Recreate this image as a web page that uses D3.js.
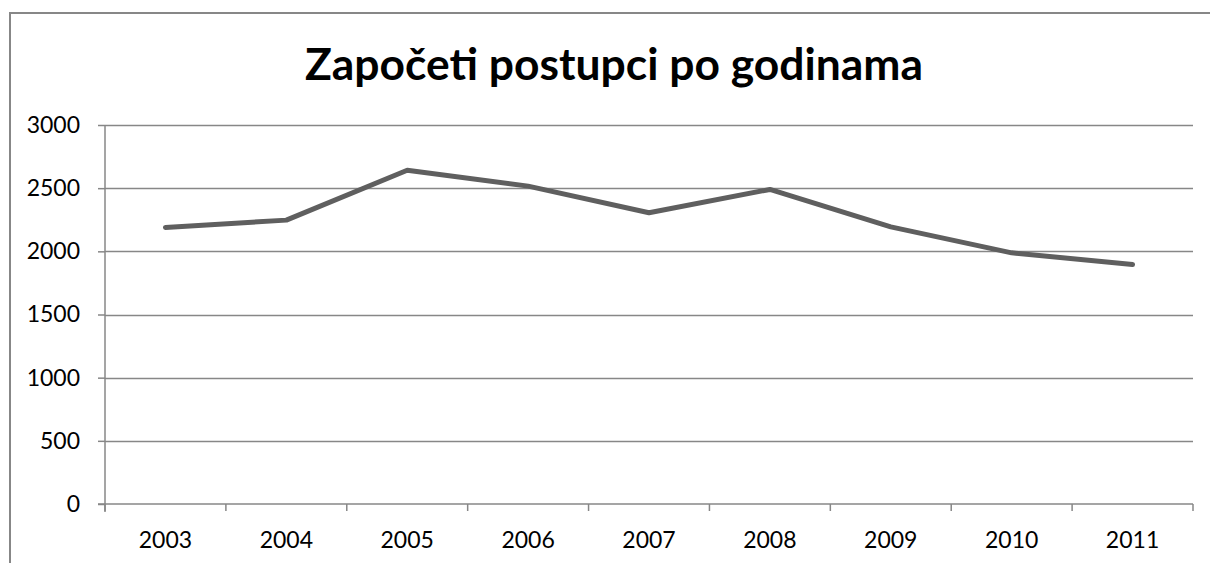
<!DOCTYPE html>
<html>
<head>
<meta charset="utf-8">
<script src="https://cdn.jsdelivr.net/npm/d3@7"></script>
<style>
  body { margin: 0; background: #fff; }
  svg { display: block; }
  text { font-family: Lato, "Open Sans", sans-serif; fill: #000; }
</style>
</head>
<body>
<div id="viz"></div>
<script>
'use strict';

var title = 'Započeti postupci po godinama';
var years = ['2003', '2004', '2005', '2006', '2007', '2008', '2009', '2010', '2011'];
var started = [2189, 2247, 2642, 2516, 2305, 2490, 2194, 1988, 1896];
var yTicks = [0, 500, 1000, 1500, 2000, 2500, 3000];

var W = 1210, H = 563;
var plotLeft = 105, plotRight = 1193, plotTop = 125, plotBottom = 504;
var gridColor = '#878787';

var svg = d3.select('#viz').append('svg')
    .attr('width', W)
    .attr('height', H);

// outer chart frame (cut off on right and bottom)
svg.append('rect')
    .attr('x', 10)
    .attr('y', 13)
    .attr('width', 1300)
    .attr('height', 700)
    .attr('fill', 'none')
    .attr('stroke', gridColor)
    .attr('stroke-width', 2);

var x = d3.scaleBand().domain(years).range([plotLeft, plotRight]).padding(0);
var y = d3.scaleLinear().domain([0, 3000]).range([plotBottom, plotTop]);

// gridlines
svg.append('g')
    .selectAll('line')
    .data(yTicks.filter(d => d > 0))
    .enter().append('line')
    .attr('x1', plotLeft)
    .attr('x2', plotRight)
    .attr('y1', d => Math.round(y(d)) + 0.5)
    .attr('y2', d => Math.round(y(d)) + 0.5)
    .attr('stroke', gridColor)
    .attr('stroke-width', 1.3);

// y axis
var yAxis = svg.append('g')
    .attr('transform', 'translate(' + plotLeft + ',0)')
    .call(d3.axisLeft(y).tickValues(yTicks).tickSize(7).tickPadding(18).tickFormat(d3.format('d')));
yAxis.select('.domain').attr('stroke', gridColor).attr('stroke-width', 1.5)
    .attr('d', 'M0,' + plotTop + 'V' + (plotBottom + 8));
yAxis.selectAll('.tick line').attr('stroke', gridColor).attr('stroke-width', 1.5);
yAxis.selectAll('.tick text')
    .attr('font-size', 23)
    .attr('font-family', 'Lato, sans-serif')
    .attr('fill', '#000');

// x axis, ticks between categories
var xAxis = svg.append('g')
    .attr('transform', 'translate(0,' + plotBottom + ')');
xAxis.append('line')
    .attr('x1', plotLeft - 7)
    .attr('x2', plotRight)
    .attr('y1', 0)
    .attr('y2', 0)
    .attr('stroke', gridColor)
    .attr('stroke-width', 1.5);
xAxis.selectAll('line.tk')
    .data(years.concat(['end']))
    .enter().append('line')
    .attr('class', 'tk')
    .attr('x1', (d, i) => i < years.length ? x(d) : plotRight)
    .attr('x2', (d, i) => i < years.length ? x(d) : plotRight)
    .attr('y1', 0)
    .attr('y2', 7)
    .attr('stroke', gridColor)
    .attr('stroke-width', 1.5);
xAxis.selectAll('text')
    .data(years)
    .enter().append('text')
    .attr('x', d => x(d) + x.bandwidth() / 2)
    .attr('y', 44)
    .attr('text-anchor', 'middle')
    .attr('font-size', 23)
    .text(d => d);

// the line
var line = d3.line()
    .x((d, i) => x(years[i]) + x.bandwidth() / 2)
    .y(d => y(d));

svg.append('path')
    .datum(started)
    .attr('d', line)
    .attr('fill', 'none')
    .attr('stroke', '#5f5f5f')
    .attr('stroke-width', 5)
    .attr('stroke-linecap', 'round')
    .attr('stroke-linejoin', 'round');

// title, fitted to the width seen in the reference
var t = svg.append('text')
    .attr('x', 614)
    .attr('y', 80)
    .attr('text-anchor', 'middle')
    .attr('font-weight', 'bold')
    .attr('font-size', 40)
    .text(title);
var tw = t.node().getComputedTextLength();
t.attr('font-size', 40 * 618 / tw);
</script>
</body>
</html>
